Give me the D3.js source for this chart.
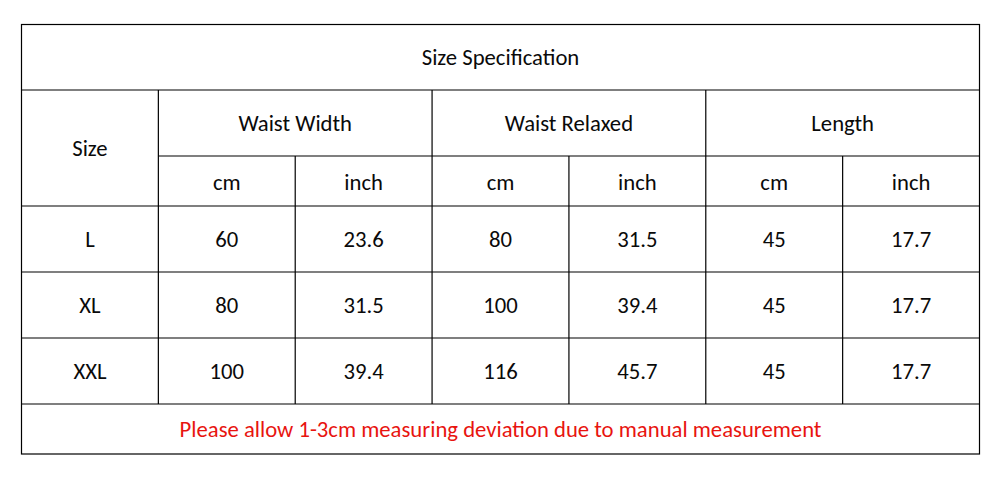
<!DOCTYPE html>
<html>
<head>
<meta charset="utf-8">
<script src="https://cdn.jsdelivr.net/npm/d3@7"></script>
<style>
  html, body { margin: 0; padding: 0; background: #fff; }
  svg { display: block; }
</style>
</head>
<body>
<svg id="chart" width="1000" height="479"></svg>
<script>
// Table data
const title = 'Size Specification';
const groups = ['Waist Width', 'Waist Relaxed', 'Length'];
const units = ['cm', 'inch'];
const sizes = ['L', 'XL', 'XXL'];
const waistCm = ['60', '80', '100'];
const waistInch = ['23.6', '31.5', '39.4'];
const relaxedCm = ['80', '100', '116'];
const relaxedInch = ['31.5', '39.4', '45.7'];
const lengthCm = ['45', '45', '45'];
const lengthInch = ['17.7', '17.7', '17.7'];
const note = 'Please allow 1-3cm measuring deviation due to manual measurement';

const svg = d3.select('#chart');
const g = svg.append('g');

const nCols = 7;
const x = d3.scaleLinear().domain([0, nCols]).range([21.5, 979.5]);
// row edges: title, group header, unit header, 3 data rows, note
const rowEdges = [24.5, 90, 156, 206, 272, 338, 404, 454];
const y = i => rowEdges[i];

const font = 'Calibri, Carlito, Lato, "Open Sans", sans-serif';
const fs = 22.7;

function text(cx, cy, s, color) {
  g.append('text')
    .attr('x', cx).attr('y', cy).attr('dy', '0.35em')
    .attr('text-anchor', 'middle')
    .attr('font-family', font).attr('font-size', fs)
    .attr('fill', color || '#0a0a0a')
    .text(s);
}

function line(x1, y1, x2, y2) {
  g.append('line')
    .attr('x1', x1).attr('y1', y1).attr('x2', x2).attr('y2', y2)
    .attr('stroke', '#000').attr('stroke-width', 1.2);
}

// outer border
g.append('rect')
  .attr('x', x(0)).attr('y', y(0))
  .attr('width', x(nCols) - x(0)).attr('height', y(7) - y(0))
  .attr('fill', 'none').attr('stroke', '#000').attr('stroke-width', 1.2);

// horizontal lines
line(x(0), y(1), x(nCols), y(1));
line(x(1), y(2), x(nCols), y(2));
[3, 4, 5, 6].forEach(r => line(x(0), y(r), x(nCols), y(r)));

// vertical lines
[1, 3, 5].forEach(c => line(x(c), y(1), x(c), y(6)));
[2, 4, 6].forEach(c => line(x(c), y(2), x(c), y(6)));

const mid = (a, b) => (a + b) / 2;

// texts
text(mid(x(0), x(nCols)), mid(y(0), y(1)), title);
text(mid(x(0), x(1)), mid(y(1), y(3)), 'Size');
groups.forEach((grp, i) => {
  text(mid(x(1 + 2 * i), x(3 + 2 * i)), mid(y(1), y(2)), grp);
  units.forEach((u, j) => {
    const c = 1 + 2 * i + j;
    text(mid(x(c), x(c + 1)), mid(y(2), y(3)) + 1, u);
  });
});

const columns = [sizes, waistCm, waistInch, relaxedCm, relaxedInch, lengthCm, lengthInch];
sizes.forEach((s, r) => {
  columns.forEach((col, c) => {
    text(mid(x(c), x(c + 1)), mid(y(3 + r), y(4 + r)), col[r]);
  });
});

text(mid(x(0), x(nCols)), mid(y(6), y(7)), note, '#e8140f');
</script>
</body>
</html>
